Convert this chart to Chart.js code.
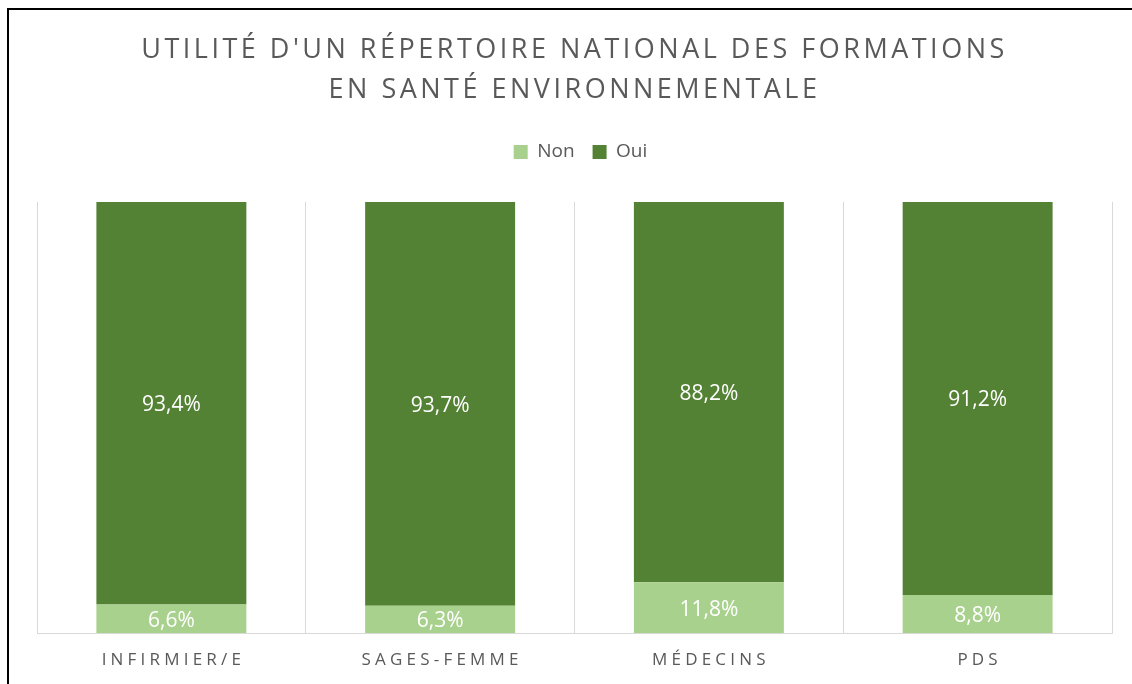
<!DOCTYPE html>
<html><head><meta charset="utf-8">
<script src="https://cdn.jsdelivr.net/npm/chart.js@4.4.1/dist/chart.umd.min.js"></script>
<style>
html,body{margin:0;padding:0;width:1132px;height:684px;overflow:hidden;background:#fff;}
#frame{position:absolute;left:7px;top:8px;width:2000px;height:2000px;border:2px solid #000;}
#wrap{position:absolute;left:0;top:0;width:1132px;height:684px;}
</style></head><body>
<div id="frame"></div>
<div id="wrap"><canvas id="c" width="1132" height="684"></canvas></div>
<script>
const categories = ['INFIRMIER/E', 'SAGES-FEMME', 'MÉDECINS', 'PDS'];
const nonValues = [6.6, 6.3, 11.8, 8.8];
const ouiValues = [93.4, 93.7, 88.2, 91.2];
const titleLines = ["UTILITÉ D'UN RÉPERTOIRE NATIONAL DES FORMATIONS", "EN SANTÉ ENVIRONNEMENTALE"];

const FONT = "'Open Sans', 'Liberation Sans', sans-serif";

const spacingPlugin = {
  id: 'spacing',
  beforeLayout(chart) {
    const lg = chart.legend;
    if (lg && !lg._fitWrapped) {
      const f = lg.fit.bind(lg);
      lg.fit = function () { f(); this.height = 202 - 124.5; };
      lg._fitWrapped = true;
    }
  },
  afterLayout(chart) {
    const lg = chart.legend;
    if (lg) { lg.left += 6; lg.right += 6; }
  },
  beforeDraw(chart) {
    if (!chart.titleBlock._wrapped) {
      const orig = chart.titleBlock.draw.bind(chart.titleBlock);
      chart.titleBlock.draw = function () {
        const ctx = chart.ctx; ctx.save(); ctx.letterSpacing = '3.5px'; orig(); ctx.restore();
      };
      chart.titleBlock._wrapped = true;
    }
    const xs = chart.scales.x;
    if (!xs._wrapped) {
      const origL = xs.drawLabels.bind(xs);
      xs.drawLabels = function (a) {
        const ctx = chart.ctx; ctx.save(); ctx.letterSpacing = '4.2px'; ctx.translate(2, 0); origL(a); ctx.restore();
      };
      xs._wrapped = true;
    }
  }
};

const labelsPlugin = {
  id: 'barLabels',
  afterDatasetsDraw(chart) {
    const ctx = chart.ctx;
    ctx.save();
    ctx.font = '21px ' + FONT;
    ctx.fillStyle = '#ffffff';
    ctx.textAlign = 'center';
    ctx.textBaseline = 'middle';
    chart.data.datasets.forEach((ds, di) => {
      const meta = chart.getDatasetMeta(di);
      meta.data.forEach((bar, i) => {
        const v = ds.data[i];
        const y = (bar.y + bar.base) / 2;
        ctx.fillText(v.toFixed(1).replace('.', ',') + '%', bar.x, y + 2);
      });
    });
    ctx.restore();
  }
};

new Chart(document.getElementById('c'), {
  type: 'bar',
  data: {
    labels: categories,
    datasets: [
      { label: 'Non', data: nonValues, backgroundColor: '#A9D18E', borderWidth: 0 },
      { label: 'Oui', data: ouiValues, backgroundColor: '#548235', borderWidth: 0 }
    ]
  },
  options: {
    responsive: false,
    animation: false,
    events: [],
    layout: { padding: { left: 37, right: 20, top: 0, bottom: 0 } },
    datasets: { bar: { categoryPercentage: 1, barPercentage: 0.558 } },
    plugins: {
      title: {
        display: true,
        text: titleLines,
        color: '#595959',
        font: { family: FONT, size: 27, weight: '400', lineHeight: 1.48 },
        padding: { top: 30, bottom: 14.5 }
      },
      legend: {
        display: true,
        position: 'top',
        labels: {
          color: '#595959',
          font: { family: FONT, size: 19 },
          boxWidth: 14, boxHeight: 14, padding: 18
        }
      },
      tooltip: { enabled: false }
    },
    scales: {
      x: {
        stacked: true,
        afterFit(scale) { scale.height = 684 - 633; },
        grid: { display: true, offset: true, color: '#D9D9D9', lineWidth: 1, drawTicks: false },
        border: { display: true, color: '#D9D9D9' },
        ticks: { color: '#595959', font: { family: FONT, size: 17 }, padding: 17 }
      },
      y: {
        stacked: true, display: false, min: 0, max: 100
      }
    }
  },
  plugins: [spacingPlugin, labelsPlugin]
});
</script>
</body></html>
